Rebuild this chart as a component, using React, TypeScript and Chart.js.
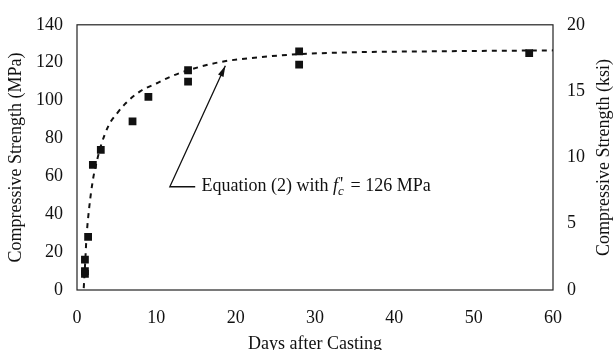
import React, { useEffect, useRef } from "react";
import { Chart, registerables } from "chart.js";
Chart.register(...registerables);

// Measured strengths (days after casting, MPa)
const measuredDays = [1, 1, 1, 1.4, 2, 3, 7, 9, 14, 14, 28, 28, 57];
const measuredMPa = [8.5, 10, 16, 28, 66, 74, 89, 102, 116, 110, 126, 119, 125];

// Equation (2) curve
const curveDays = [0.85, 1, 1.2, 1.5, 2, 2.5, 3, 4, 5, 6, 8, 10, 12, 14, 18, 22, 28, 35, 45, 60];
const curveMPa = [1, 12, 28, 42, 58, 68, 76, 87, 93, 98, 105, 109, 113, 116, 120.3, 122.5, 124.5, 125.5, 126, 126.5];

// Axis ranges / ticks
const xTicks = [0, 10, 20, 30, 40, 50, 60];
const mpaTicks = [0, 20, 40, 60, 80, 100, 120, 140];
const ksiTicks = [0, 5, 10, 15, 20];

// Annotation (data coordinates: day, MPa)
const arrowTip = [18.7, 118.4];
const arrowTail = [11.7, 54.5];
const leaderEnd = [14.9, 54.5];
const labelStart = [15.7, 54.5];

const FONT = "'Liberation Serif', 'Times New Roman', serif";
const FS = 18;

const overlay = {
  id: "overlay",
  afterDraw(chart: any) {
    const { ctx, chartArea: a, scales } = chart;
    const xs = scales.x;
    const ys = scales.y;
    ctx.save();
    // frame
    ctx.strokeStyle = "#222";
    ctx.lineWidth = 1.2;
    ctx.strokeRect(a.left, a.top, a.right - a.left, a.bottom - a.top);

    // right title
    ctx.fillStyle = "#111";
    ctx.font = `${FS}px ${FONT}`;
    ctx.textAlign = "center";
    ctx.textBaseline = "middle";
    ctx.save();
    ctx.translate(604, (a.top + a.bottom) / 2);
    ctx.rotate(-Math.PI / 2);
    ctx.fillText("Compressive Strength (ksi)", 0, 0);
    ctx.restore();

    // arrow
    const tx = xs.getPixelForValue(arrowTip[0]);
    const ty = ys.getPixelForValue(arrowTip[1]);
    const bx = xs.getPixelForValue(arrowTail[0]);
    const by = ys.getPixelForValue(arrowTail[1]);
    const ex = xs.getPixelForValue(leaderEnd[0]);
    ctx.strokeStyle = "#111";
    ctx.lineWidth = 1.3;
    ctx.beginPath();
    ctx.moveTo(ex, by);
    ctx.lineTo(bx, by);
    ctx.lineTo(tx, ty);
    ctx.stroke();
    const ang = Math.atan2(ty - by, tx - bx);
    const len = 11, hw = 3;
    ctx.beginPath();
    ctx.moveTo(tx, ty);
    ctx.lineTo(tx - len * Math.cos(ang) + hw * Math.sin(ang), ty - len * Math.sin(ang) - hw * Math.cos(ang));
    ctx.lineTo(tx - len * Math.cos(ang) - hw * Math.sin(ang), ty - len * Math.sin(ang) + hw * Math.cos(ang));
    ctx.closePath();
    ctx.fillStyle = "#111";
    ctx.fill();

    // label
    let lx = xs.getPixelForValue(labelStart[0]);
    const ly = ys.getPixelForValue(labelStart[1]);
    ctx.textAlign = "left";
    ctx.textBaseline = "middle";
    const part = (t: string, font: string, dy = 0) => {
      ctx.font = font;
      ctx.fillText(t, lx, ly + dy);
      lx += ctx.measureText(t).width;
    };
    part("Equation (2) with ", `${FS}px ${FONT}`);
    part("f", `italic ${FS}px ${FONT}`);
    const cx = lx;
    part("c", `italic 13px ${FONT}`, 5);
    ctx.font = `${FS}px ${FONT}`;
    ctx.fillText("'", cx + 2, ly - 1);
    lx = cx + 8;
    part(" = 126 MPa", `${FS}px ${FONT}`);
    ctx.restore();
  },
};

export default function App() {
  const ref = useRef<HTMLCanvasElement>(null);
  useEffect(() => {
    if (!ref.current) return;
    const tickFont = { family: FONT, size: FS };
    const chart = new Chart(ref.current, {
      type: "scatter",
      data: {
        datasets: [
          {
            label: "Equation (2)",
            data: curveDays.map((d, i) => ({ x: d, y: curveMPa[i] })),
            showLine: true,
            borderColor: "#111",
            borderWidth: 2,
            borderDash: [5, 5],
            pointRadius: 0,
            cubicInterpolationMode: "monotone",
            order: 2,
          },
          {
            label: "Measured",
            data: measuredDays.map((d, i) => ({ x: d, y: measuredMPa[i] })),
            pointStyle: "rect",
            pointRadius: 5.5,
            backgroundColor: "#111",
            borderColor: "#111",
            borderWidth: 0,
            order: 1,
          },
        ],
      },
      options: {
        responsive: false,
        animation: false,
        layout: { padding: { top: 16, left: 0, right: 0, bottom: 0 } },
        plugins: { legend: { display: false }, tooltip: { enabled: false } },
        scales: {
          x: {
            type: "linear",
            min: 0,
            max: 60,
            afterBuildTicks: (s: any) => { s.ticks = xTicks.map((v) => ({ value: v })); },
            afterFit: (s: any) => { s.height = 60; },
            grid: { display: false, drawTicks: false },
            border: { display: false },
            ticks: { color: "#111", font: tickFont, padding: 17, maxRotation: 0 },
            title: { display: true, text: "Days after Casting", color: "#111", font: tickFont, padding: { top: 0, bottom: -5 } },
          },
          y: {
            type: "linear",
            position: "left",
            min: 0,
            max: 140,
            afterBuildTicks: (s: any) => { s.ticks = mpaTicks.map((v) => ({ value: v })); },
            afterFit: (s: any) => { s.width = 77; },
            grid: { display: false, drawTicks: false },
            border: { display: false },
            ticks: { color: "#111", font: tickFont, padding: 14 },
            title: { display: true, text: "Compressive Strength (MPa)", color: "#111", font: tickFont, padding: { top: 5, bottom: 0 } },
          },
          y2: {
            type: "linear",
            position: "right",
            min: 0,
            max: 20,
            afterBuildTicks: (s: any) => { s.ticks = ksiTicks.map((v) => ({ value: v })); },
            afterFit: (s: any) => { s.width = 61; },
            grid: { display: false, drawTicks: false },
            border: { display: false },
            ticks: { color: "#111", font: tickFont, padding: 14 },
          },
        },
      },
      plugins: [overlay],
    } as any);
    return () => chart.destroy();
  }, []);
  return (
    <div style={{ position: "absolute", left: 0, top: 0, width: 614, height: 350, background: "#fff" }}>
      <canvas ref={ref} width={614} height={350} style={{ display: "block" }} />
    </div>
  );
}
